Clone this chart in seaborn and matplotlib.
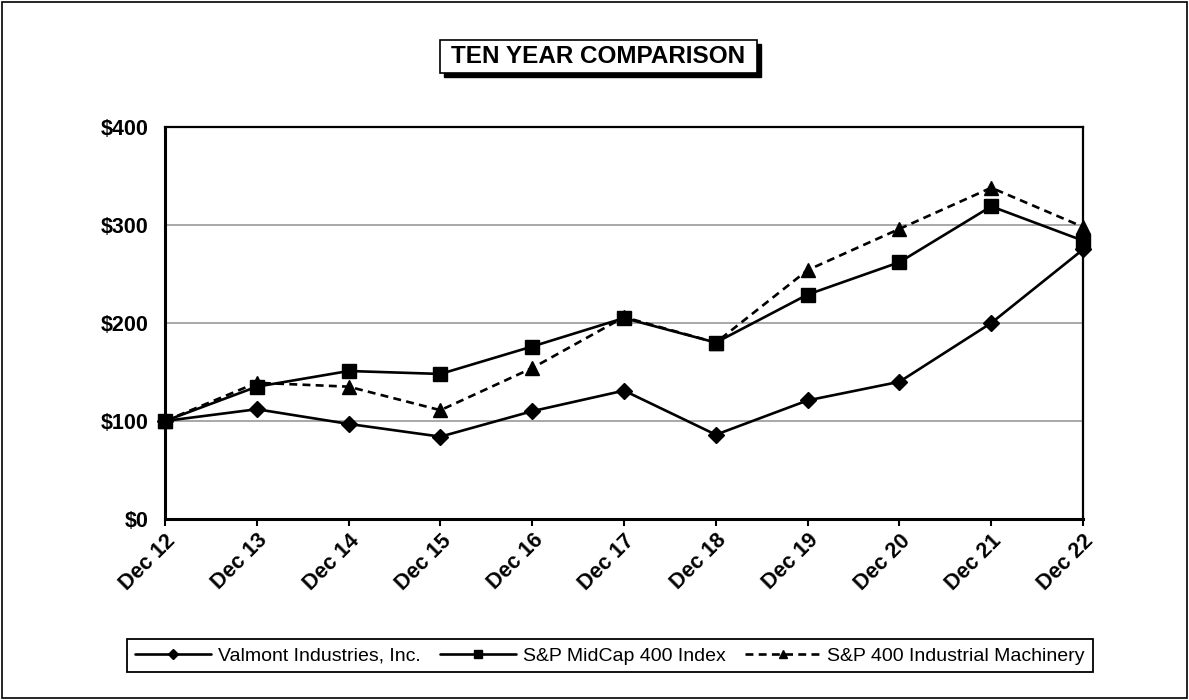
import matplotlib
matplotlib.use("Agg")
import matplotlib.pyplot as plt
from matplotlib.patches import Rectangle
import seaborn as sns
import pandas as pd

# ---- data ----
years = ["Dec 12", "Dec 13", "Dec 14", "Dec 15", "Dec 16", "Dec 17",
         "Dec 18", "Dec 19", "Dec 20", "Dec 21", "Dec 22"]
valmont = [100, 112, 97, 84, 110, 131, 86, 121, 140, 200, 275]
midcap = [100, 135, 151, 148, 176, 205, 180, 229, 262, 319, 284]
machinery = [100, 139, 135, 111, 154, 206, 180, 254, 296, 338, 298]
series_names = ["Valmont Industries, Inc.", "S&P MidCap 400 Index",
                "S&P 400 Industrial Machinery"]
y_ticks = [0, 100, 200, 300, 400]
y_labels = ["$0", "$100", "$200", "$300", "$400"]
title = "TEN YEAR COMPARISON"

sns.set_theme(style="white")
plt.rcParams["font.family"] = ["Liberation Sans", "DejaVu Sans"]
plt.rcParams["text.color"] = "black"
plt.rcParams["xtick.color"] = "black"
plt.rcParams["ytick.color"] = "black"
plt.rcParams["axes.labelcolor"] = "black"

df = pd.DataFrame({
    "year": years * 3,
    "value": valmont + midcap + machinery,
    "series": [series_names[0]] * len(years) + [series_names[1]] * len(years)
              + [series_names[2]] * len(years),
})

fig = plt.figure(figsize=(11.89, 7.0), dpi=100)
ax = fig.add_axes([0.1388, 0.2586, 0.9109 - 0.1388, 0.8186 - 0.2586])

marker_map = {series_names[0]: "D", series_names[1]: "s", series_names[2]: "^"}
size_map = {series_names[0]: 7.8, series_names[1]: 10.5, series_names[2]: 10.5}

for name in series_names:
    sub = df[df["series"] == name]
    sns.lineplot(data=sub, x="year", y="value", ax=ax, color="black",
                 marker=marker_map[name], markersize=size_map[name],
                 markeredgewidth=1, markeredgecolor="black",
                 linewidth=1.9, sort=False, label=name,
                 clip_on=False, zorder=5)

# dashed style for machinery
for line in ax.get_lines():
    if line.get_label() == series_names[2]:
        line.set_dashes((3, 2))

ax.set_xlim(0, len(years) - 1)
ax.set_ylim(0, 400)
ax.set_yticks(y_ticks)
ax.set_yticklabels(y_labels, fontsize=15.5, fontweight="bold", color="black")
ax.set_xticks(range(len(years)))
ax.set_xticklabels(years, rotation=45, ha="right", rotation_mode="anchor",
                   fontsize=15.5, fontweight="bold", color="black")
ax.tick_params(axis="x", direction="out", length=5, width=1.5, color="black",
               bottom=True, pad=3)
ax.tick_params(axis="y", length=0, pad=12)
ax.set_xlabel("")
ax.set_ylabel("")
ax.yaxis.grid(True, color="#9a9a9a", linewidth=1.2)
ax.xaxis.grid(False)
ax.set_axisbelow(True)
for side in ["left", "bottom", "top", "right"]:
    ax.spines[side].set_visible(True)
    ax.spines[side].set_color("black")
    ax.spines[side].set_linewidth(1.6)
ax.spines["left"].set_linewidth(2.2)
ax.spines["bottom"].set_linewidth(2.2)

# legend
handles, labels = ax.get_legend_handles_labels()
if ax.get_legend():
    ax.get_legend().remove()
leg = fig.legend(handles, labels, loc="center", bbox_to_anchor=(0.513, 0.063),
                 ncol=3, frameon=True, fancybox=False, edgecolor="black",
                 framealpha=1, fontsize=14, handlelength=3.9,
                 handletextpad=0.35, columnspacing=1.0, borderpad=0.4,
                 markerscale=0.6)
leg.get_frame().set_linewidth(1.3)
for t in leg.get_texts():
    t.set_color("black")

# title box with drop shadow
W, H = 1189.0, 700.0
bx, by, bw, bh = 440 / W, 1 - 73 / H, 317 / W, 33 / H
fig.patches.append(Rectangle((bx + 4 / W, by - 4 / H), bw, bh,
                             transform=fig.transFigure, facecolor="black",
                             edgecolor="black", zorder=1))
fig.patches.append(Rectangle((bx, by), bw, bh, transform=fig.transFigure,
                             facecolor="white", edgecolor="black",
                             linewidth=1.2, zorder=2))
fig.text(bx + bw / 2, by + bh / 2, title, ha="center", va="center",
         fontsize=17.5, fontweight="bold", color="black", zorder=3)

# outer border
fig.patches.append(Rectangle((2 / W, 2 / H), 1 - 4 / W, 1 - 4 / H,
                             transform=fig.transFigure, facecolor="none",
                             edgecolor="black", linewidth=1.2))

fig.savefig("out.png", dpi=100)
